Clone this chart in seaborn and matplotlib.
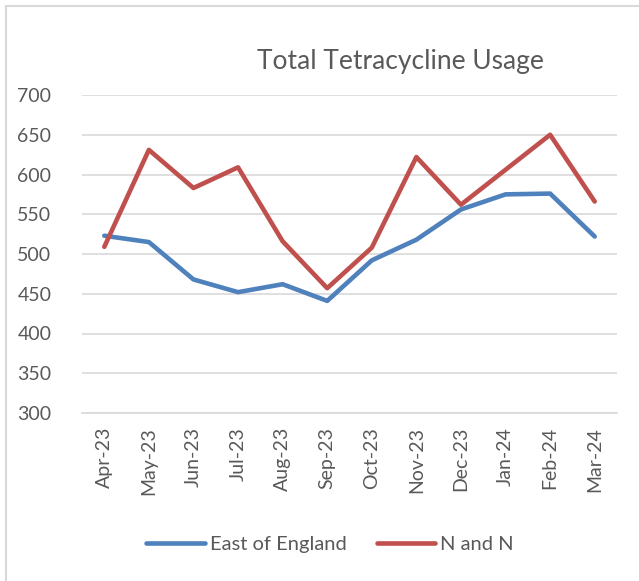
import matplotlib
matplotlib.use("Agg")
import matplotlib.pyplot as plt
import numpy as np
import pandas as pd
import seaborn as sns
from matplotlib.lines import Line2D

# ---------------------------------------------------------------------------
# Data
# ---------------------------------------------------------------------------
months = ["Apr-23", "May-23", "Jun-23", "Jul-23", "Aug-23", "Sep-23",
          "Oct-23", "Nov-23", "Dec-23", "Jan-24", "Feb-24", "Mar-24"]
east_of_england = [523, 515, 468, 452, 462, 441, 492, 518, 556, 575, 576, 522]
n_and_n = [509, 631, 583, 609, 516, 457, 508, 622, 562, 606, 650, 566]
series_names = ["East of England", "N and N"]
y_ticks = [300, 350, 400, 450, 500, 550, 600, 650, 700]

GREY_TXT = "#595959"
GRID = "#d9d9d9"
palette = {"East of England": "#4f81bd", "N and N": "#c0504d"}

df = pd.DataFrame({
    "month": months * 2,
    "x": list(range(len(months))) * 2,
    "usage": east_of_england + n_and_n,
    "series": [series_names[0]] * len(months) + [series_names[1]] * len(months),
})

sns.set_style("white")
plt.rcParams["font.family"] = ["Lato", "DejaVu Sans"]

fig = plt.figure(figsize=(6.39, 5.81), dpi=100)
W, H = 639, 581
ax = fig.add_axes([82 / W, 1 - 413 / H, (617 - 82) / W, (413 - 95) / H])

sns.lineplot(data=df, x="x", y="usage", hue="series", palette=palette,
             linewidth=3.3, ax=ax, legend=False, sort=False,
             solid_capstyle="round", solid_joinstyle="round")

ax.set_xlim(-0.5, len(months) - 0.5)
ax.set_ylim(y_ticks[0], y_ticks[-1])
ax.set_yticks(y_ticks)
ax.set_yticklabels([str(v) for v in y_ticks], fontsize=14, color=GREY_TXT)
ax.set_xticks(np.arange(len(months)))
ax.set_xticklabels(months, rotation=90, fontsize=14, color=GREY_TXT)
ax.set_xticks(np.arange(-0.5, len(months)), minor=True)
ax.tick_params(axis="x", which="major", length=0, pad=10)
ax.tick_params(axis="x", which="minor", length=6, color=GRID, width=1.2)
ax.tick_params(axis="y", length=0, pad=22)
ax.set_xlabel("")
ax.set_ylabel("")

ax.yaxis.grid(True, color=GRID, linewidth=1.2)
ax.set_axisbelow(True)
for side in ["left", "right", "top"]:
    ax.spines[side].set_visible(False)
ax.spines["bottom"].set_color(GRID)
ax.spines["bottom"].set_linewidth(1.2)

fig.text(400 / W, 1 - 62 / H, "Total Tetracycline Usage", ha="center",
         va="center", fontsize=19, color=GREY_TXT)

handles = [Line2D([], [], color=palette[s], linewidth=3.3,
                  solid_capstyle="round") for s in series_names]
fig.legend(handles, series_names, loc="center", ncol=2,
           bbox_to_anchor=(330 / W, 1 - 544 / H), frameon=False,
           fontsize=14.5, labelcolor=GREY_TXT, handlelength=2.9,
           handletextpad=0.25, columnspacing=1.5)

# outer chart border
fig.add_artist(Line2D([6 / W, 6 / W], [0, 1 - 6 / H], color=GRID, lw=1.5,
                      transform=fig.transFigure))
fig.add_artist(Line2D([6 / W, 1], [1 - 6 / H, 1 - 6 / H], color=GRID, lw=1.5,
                      transform=fig.transFigure))

fig.savefig("out.png", dpi=100)
